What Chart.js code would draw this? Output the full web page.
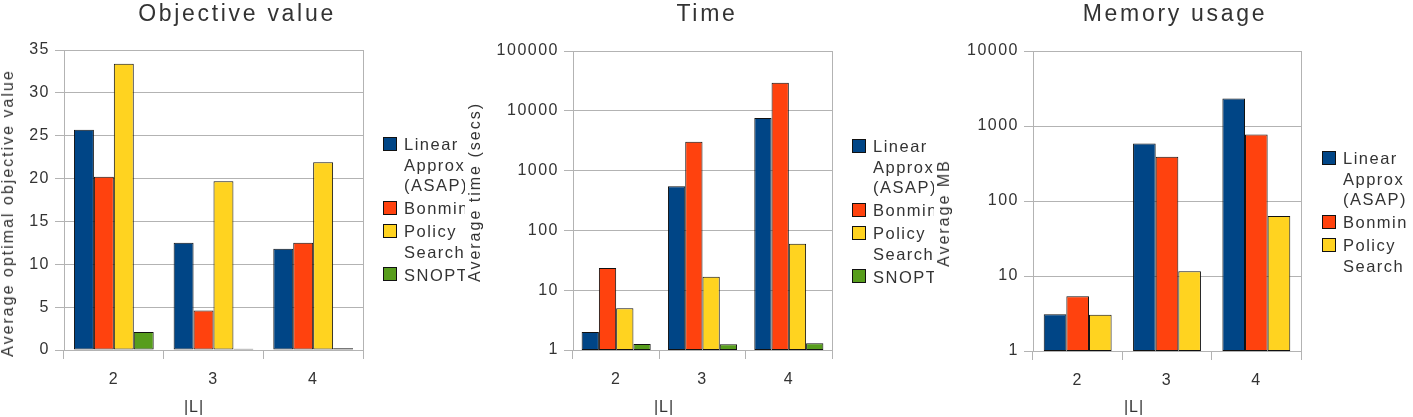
<!DOCTYPE html>
<html>
<head>
<meta charset="utf-8">
<script src="https://cdn.jsdelivr.net/npm/chart.js@4"></script>
<style>
    body { margin: 0; background: #fff; font-family: "Liberation Sans", Arial, sans-serif; color: #333; }
    #page { position: relative; width: 1413px; height: 417px; overflow: hidden; }
    .panel { position: absolute; top: 0; height: 417px; background: #fff; }
    .panel canvas { position: absolute; left: 0; top: 0; }
    .title { position: absolute; top: 0px; font-size: 23px; line-height: 27px; letter-spacing: 2.7px; white-space: nowrap; transform: translateX(-50%); }
    .xtitle { position: absolute; top: 398px; font-size: 16px; line-height: 18px; letter-spacing: 1px; transform: translateX(-50%); }
    .ytitle { position: absolute; font-size: 16px; line-height: 18px; letter-spacing: 2px; white-space: nowrap; transform: translate(-50%, -50%) rotate(-90deg); }
    .legend { position: absolute; font-size: 16.5px; line-height: 20.5px; letter-spacing: 1.5px; white-space: nowrap; }
    .legend .item { display: flex; align-items: flex-start; margin-bottom: 2.5px; }
    .legend .box { width: 12px; height: 12px; border: 1px solid #111; margin-top: 2.5px; margin-right: 7px; flex: none; }
</style>
</head>
<body>
<div id="page">
    <div class="panel" id="panel1" style="left:0;width:465px;z-index:1">
        <canvas id="objChart"></canvas>
        <div class="title" style="left:237px">Objective value</div>
        <div class="ytitle" style="left:8px;top:213px">Average optimal objective value</div>
        <div class="xtitle" style="left:194px">|L|</div>
        <div class="legend" id="legend1" style="left:383px;top:134px"></div>
    </div>
    <div class="panel" id="panel2" style="left:465px;width:469px;z-index:2">
        <canvas id="timeChart"></canvas>
        <div class="title" style="left:242px">Time</div>
        <div class="ytitle" style="left:10px;top:192px">Average time (secs)</div>
        <div class="xtitle" style="left:199px">|L|</div>
        <div class="legend" id="legend2" style="left:387px;top:136px"></div>
    </div>
    <div class="panel" id="panel3" style="left:934px;width:479px;z-index:3">
        <canvas id="memChart"></canvas>
        <div class="title" style="left:241px">Memory usage</div>
        <div class="ytitle" style="left:10px;top:213px">Average MB</div>
        <div class="xtitle" style="left:200px">|L|</div>
        <div class="legend" id="legend3" style="left:388px;top:148px"></div>
    </div>
</div>

<script>
// du lieu
const categories = ['2', '3', '4'];
const seriesNames = ['Linear\nApprox\n(ASAP)', 'Bonmin', 'Policy\nSearch', 'SNOPT'];
const seriesColors = ['#004586', '#ff420e', '#ffd320', '#579d1c'];

const objLinear = [25.7, 12.5, 11.8];
const objBonmin = [20.2, 4.6, 12.5];
const objPolicy = [33.4, 19.7, 21.9];
const objSnopt = [2.1, 0.15, 0.2];

const timeLinear = [2.0, 545, 7600];
const timeBonmin = [23.5, 3050, 29500];
const timePolicy = [5.0, 16.8, 60];
const timeSnopt = [1.26, 1.25, 1.3];

const memLinear = [3.08, 585, 2330];
const memBonmin = [5.35, 390, 770];
const memPolicy = [3.05, 11.6, 63];

const objTicks = [0, 5, 10, 15, 20, 25, 30, 35];
const timeTicks = [1, 10, 100, 1000, 10000, 100000];
const memTicks = [1, 10, 100, 1000, 10000];

const gridColor = '#b3b3b3';

// khung quanh vung ve + khoang cach chu
const framePlugin = {
    id: 'frame',
    beforeLayout(chart) { chart.ctx.letterSpacing = '1.5px'; },
    beforeDraw(chart) { chart.ctx.letterSpacing = '1.5px'; },
    beforeDatasetsDraw(chart) {
        const a = chart.chartArea;
        const ctx = chart.ctx;
        ctx.save();
        ctx.strokeStyle = gridColor;
        ctx.lineWidth = 1;
        ctx.strokeRect(Math.round(a.left) + 0.5, Math.round(a.top) + 0.5,
            Math.round(a.right - a.left), Math.round(a.bottom - a.top));
        ctx.restore();
    }
};

function makeDatasets(lists, catPct) {
    return lists.map((data, i) => ({
        label: seriesNames[i].replace(/\n/g, ' '),
        data: data,
        backgroundColor: seriesColors[i],
        borderColor: '#111',
        borderWidth: 1,
        borderSkipped: false,
        barPercentage: 1.0,
        categoryPercentage: catPct
    }));
}

function makeChart(canvasId, lists, catPct, yOpts, box) {
    return new Chart(document.getElementById(canvasId), {
        type: 'bar',
        data: { labels: categories, datasets: makeDatasets(lists, catPct) },
        plugins: [framePlugin],
        options: {
            responsive: true,
            maintainAspectRatio: false,
            animation: false,
            layout: { padding: { left: 0, right: box.right, top: box.top, bottom: 0 } },
            plugins: { legend: { display: false }, title: { display: false }, tooltip: { enabled: false } },
            scales: {
                x: {
                    grid: { offset: true, drawOnChartArea: false, color: gridColor, tickLength: 9 },
                    border: { color: gridColor },
                    ticks: { color: '#333', padding: 11, font: { family: 'Liberation Sans', size: 16 } },
                    afterFit: (scale) => { scale.height = box.bottom; }
                },
                y: Object.assign({
                    grid: { color: gridColor, tickLength: 9 },
                    border: { color: gridColor },
                    afterFit: (scale) => { scale.width = box.left; }
                }, yOpts)
            }
        }
    });
}

function tickOpts() {
    return {
        color: '#333',
        padding: 5,
        font: { family: 'Liberation Sans', size: 16 },
        callback: (v) => String(v)
    };
}

// Bieu do 1: gia tri muc tieu
makeChart('objChart', [objLinear, objBonmin, objPolicy, objSnopt], 0.8, {
    type: 'linear', min: 0, max: 35,
    afterBuildTicks: (scale) => { scale.ticks = objTicks.map(v => ({ value: v })); },
    ticks: tickOpts()
}, { left: 64, right: 465 - 363, top: 50, bottom: 67 });

// Bieu do 2: thoi gian (log)
makeChart('timeChart', [timeLinear, timeBonmin, timePolicy, timeSnopt], 0.8, {
    type: 'logarithmic', min: 1, max: 100000,
    afterBuildTicks: (scale) => { scale.ticks = timeTicks.map(v => ({ value: v })); },
    ticks: tickOpts()
}, { left: 108, right: 469 - 367, top: 51, bottom: 67 });

// Bieu do 3: bo nho (log)
makeChart('memChart', [memLinear, memBonmin, memPolicy], 0.76, {
    type: 'logarithmic', min: 1, max: 10000,
    afterBuildTicks: (scale) => { scale.ticks = memTicks.map(v => ({ value: v })); },
    ticks: tickOpts()
}, { left: 99, right: 479 - 367, top: 51, bottom: 66 });

// chu thich (legend) bang HTML
function buildLegend(id, count) {
    const el = document.getElementById(id);
    for (let i = 0; i < count; i++) {
        const item = document.createElement('div');
        item.className = 'item';
        const box = document.createElement('span');
        box.className = 'box';
        box.style.background = seriesColors[i];
        const text = document.createElement('span');
        text.innerHTML = seriesNames[i].split('\n').join('<br>');
        item.appendChild(box);
        item.appendChild(text);
        el.appendChild(item);
    }
}
buildLegend('legend1', 4);
buildLegend('legend2', 4);
buildLegend('legend3', 3);
</script>
</body>
</html>
